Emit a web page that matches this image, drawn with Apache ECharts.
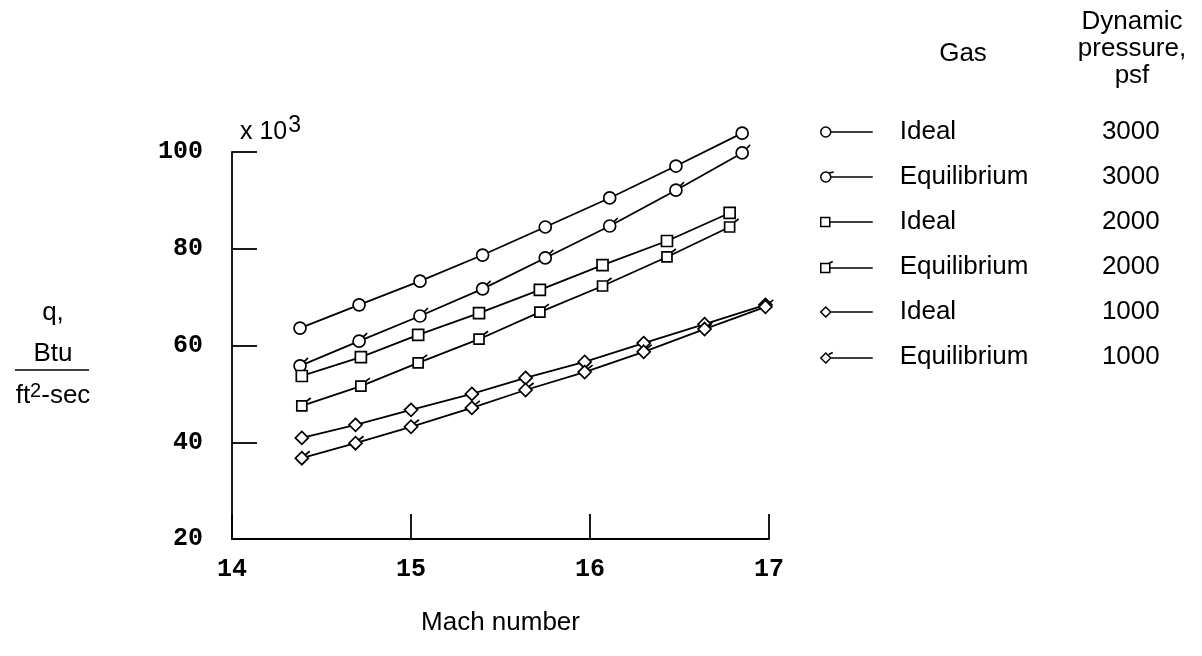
<!DOCTYPE html>
<html>
<head>
<meta charset="utf-8">
<script src="https://cdn.jsdelivr.net/npm/echarts@6/dist/echarts.min.js"></script>
<style>
  html, body { margin: 0; padding: 0; background: #fff; }
  #chart { width: 1202px; height: 656px; }
</style>
</head>
<body>
<div id="chart"></div>
<script>
// data (q in thousands of Btu/ft2-sec)
var mach3000 = [14.38, 14.71, 15.05, 15.40, 15.75, 16.11, 16.48, 16.85];
var ideal3000 = [63.6, 68.4, 73.3, 78.7, 84.5, 90.5, 97.1, 103.9];
var equil3000 = [55.8, 60.9, 66.1, 71.7, 78.1, 84.7, 92.1, 99.8];

var mach2000 = [14.39, 14.72, 15.04, 15.38, 15.72, 16.07, 16.43, 16.78];
var ideal2000 = [53.7, 57.6, 62.2, 66.7, 71.5, 76.6, 81.6, 87.4];
var equil2000 = [47.5, 51.6, 56.4, 61.3, 66.9, 72.3, 78.3, 84.5];

var mach1000 = [14.39, 14.69, 15.00, 15.34, 15.64, 15.97, 16.30, 16.64, 16.98];
var ideal1000 = [40.9, 43.6, 46.7, 50.0, 53.3, 56.6, 60.5, 64.4, 68.4];
var equil1000 = [36.7, 39.8, 43.2, 47.1, 50.8, 54.5, 58.7, 63.4, 68.0];

var gasNames = ['Ideal', 'Equilibrium', 'Ideal', 'Equilibrium', 'Ideal', 'Equilibrium'];
var pressures = ['3000', '3000', '2000', '2000', '1000', '1000'];

// symbols: equilibrium ones carry a small flag at the upper right
var symCircleEq = 'path://M-2,16 M0,8 A6,6 0 1,1 12,8 A6,6 0 1,1 0,8 Z M10.2,3.8 L14,0';
var symRectEq = 'path://M-3,16 M1,3 L11,3 L11,13 L1,13 Z M11,3 L15,0';
var symDiamondEq = 'path://M-2,16 M14,0 M6,1.5 L12.5,8 L6,14.5 L-0.5,8 Z M9.5,4.5 L14,1';

var legCircle = 'path://M0,6 A5,5 0 1,1 10,6 A5,5 0 1,1 0,6 Z M10,6 L52,6 M0,0 M0,12';
var legCircleEq = 'path://M0,6 A5,5 0 1,1 10,6 A5,5 0 1,1 0,6 Z M8,2 L13,1 M10,6 L52,6 M0,0 M0,12';
var legRect = 'path://M0,1.5 L9,1.5 L9,10.5 L0,10.5 Z M9,6 L52,6 M0,0 M0,12';
var legRectEq = 'path://M0,2.5 L9,2.5 L9,11.5 L0,11.5 Z M8,2.5 L12,0.5 M9,7 L52,7 M0,0 M0,12';
var legDiamond = 'path://M0,6 L5,1 L10,6 L5,11 Z M10,6 L52,6 M0,0 M0,12';
var legDiamondEq = 'path://M0,7 L5,2 L10,7 L5,12 Z M8,3.5 L12,1.5 M10,7 L52,7 M0,0';

function pairs(xs, ys) {
    var out = [];
    for (var i = 0; i < xs.length; i++) {
        out.push([xs[i], ys[i]]);
    }
    return out;
}

function makeSeries(name, xs, ys, symbol, size) {
    return {
        name: name,
        type: 'line',
        clip: false,
        data: pairs(xs, ys),
        symbol: symbol,
        symbolSize: size,
        symbolKeepAspect: true,
        showAllSymbol: true,
        lineStyle: { color: '#000', width: 1.8 },
        itemStyle: { color: '#fff', borderColor: '#000', borderWidth: 1.7 },
        emphasis: { disabled: true }
    };
}

var seriesNames = gasNames.map(function (g, i) { return g + ' ' + pressures[i]; });

var chart = echarts.init(document.getElementById('chart'));

var option = {
    backgroundColor: '#fff',
    animation: false,
    textStyle: { fontFamily: 'Liberation Sans', color: '#000' },
    grid: { left: 232, right: 433, top: 152, bottom: 117 },
    legend: {
        orient: 'vertical',
        left: 815,
        top: 112,
        itemWidth: 52,
        itemHeight: 12,
        itemGap: 15,
        selectedMode: false,
        itemStyle: { color: '#fff', borderColor: '#000', borderWidth: 1.5 },
        data: [
            { name: seriesNames[0], icon: legCircle },
            { name: seriesNames[1], icon: legCircleEq },
            { name: seriesNames[2], icon: legRect },
            { name: seriesNames[3], icon: legRectEq },
            { name: seriesNames[4], icon: legDiamond },
            { name: seriesNames[5], icon: legDiamondEq }
        ],
        formatter: function (name) {
            var i = seriesNames.indexOf(name);
            return '{s|}{g|' + gasNames[i] + '}{p|' + pressures[i] + '}';
        },
        textStyle: {
            rich: {
                s: { width: 22, height: 30 },
                g: { width: 178, fontSize: 26, lineHeight: 30, height: 30, fontFamily: 'Liberation Sans', color: '#000' },
                p: { width: 82, align: 'right', fontSize: 26, lineHeight: 30, height: 30, fontFamily: 'Liberation Sans', color: '#000' }
            }
        }
    },
    xAxis: {
        type: 'value',
        min: 14,
        max: 17,
        interval: 1,
        name: 'Mach number',
        nameLocation: 'middle',
        nameGap: 71,
        nameTextStyle: { fontSize: 26, fontFamily: 'Liberation Sans', color: '#000' },
        axisLine: { lineStyle: { color: '#000', width: 1.8 } },
        axisTick: { inside: true, length: 25, lineStyle: { color: '#000', width: 1.8 } },
        splitLine: { show: false },
        axisLabel: { margin: 18, fontSize: 25, fontWeight: 'bold', fontFamily: 'Liberation Mono', color: '#000' }
    },
    yAxis: {
        type: 'value',
        min: 20,
        max: 100,
        interval: 20,
        axisLine: { show: true, lineStyle: { color: '#000', width: 1.8 } },
        axisTick: { show: true, inside: true, length: 25, lineStyle: { color: '#000', width: 1.8 } },
        splitLine: { show: false },
        axisLabel: { margin: 29, fontSize: 25, fontWeight: 'bold', fontFamily: 'Liberation Mono', color: '#000' }
    },
    graphic: [
        {
            type: 'text', x: 240, y: 114,
            style: {
                text: 'x 10{s|3}',
                font: '25px "Liberation Sans"', fill: '#000',
                rich: { s: { fontSize: 23, verticalAlign: 'bottom', padding: [0, 0, 14, 1] } }
            }
        },
        {
            type: 'text', x: 53, y: 313,
            style: { text: 'q,', font: '26px "Liberation Sans"', fill: '#000', align: 'center', verticalAlign: 'middle' }
        },
        {
            type: 'text', x: 53, y: 354,
            style: { text: 'Btu', font: '26px "Liberation Sans"', fill: '#000', align: 'center', verticalAlign: 'middle' }
        },
        {
            type: 'line',
            shape: { x1: 15, y1: 370, x2: 89, y2: 370 },
            style: { stroke: '#000', lineWidth: 1.5 }
        },
        {
            type: 'text', x: 53, y: 396,
            style: {
                text: 'ft{s|2}-sec',
                font: '26px "Liberation Sans"', fill: '#000', align: 'center', verticalAlign: 'middle',
                rich: { s: { fontSize: 20, padding: [0, 0, 10, 0] } }
            }
        },
        {
            type: 'text', x: 963, y: 54,
            style: { text: 'Gas', font: '26px "Liberation Sans"', fill: '#000', align: 'center', verticalAlign: 'middle' }
        },
        {
            type: 'text', x: 1132, y: 49,
            style: {
                text: 'Dynamic\npressure,\npsf',
                font: '26px "Liberation Sans"', fill: '#000', align: 'center', verticalAlign: 'middle', lineHeight: 27
            }
        }
    ],
    series: [
        makeSeries(seriesNames[0], mach3000, ideal3000, 'circle', 12),
        makeSeries(seriesNames[1], mach3000, equil3000, symCircleEq, 16),
        makeSeries(seriesNames[2], mach2000, ideal2000, 'rect', 11),
        makeSeries(seriesNames[3], mach2000, equil2000, symRectEq, 18),
        makeSeries(seriesNames[4], mach1000, ideal1000, 'diamond', 13),
        makeSeries(seriesNames[5], mach1000, equil1000, symDiamondEq, 16)
    ]
};

chart.setOption(option);
</script>
</body>
</html>
